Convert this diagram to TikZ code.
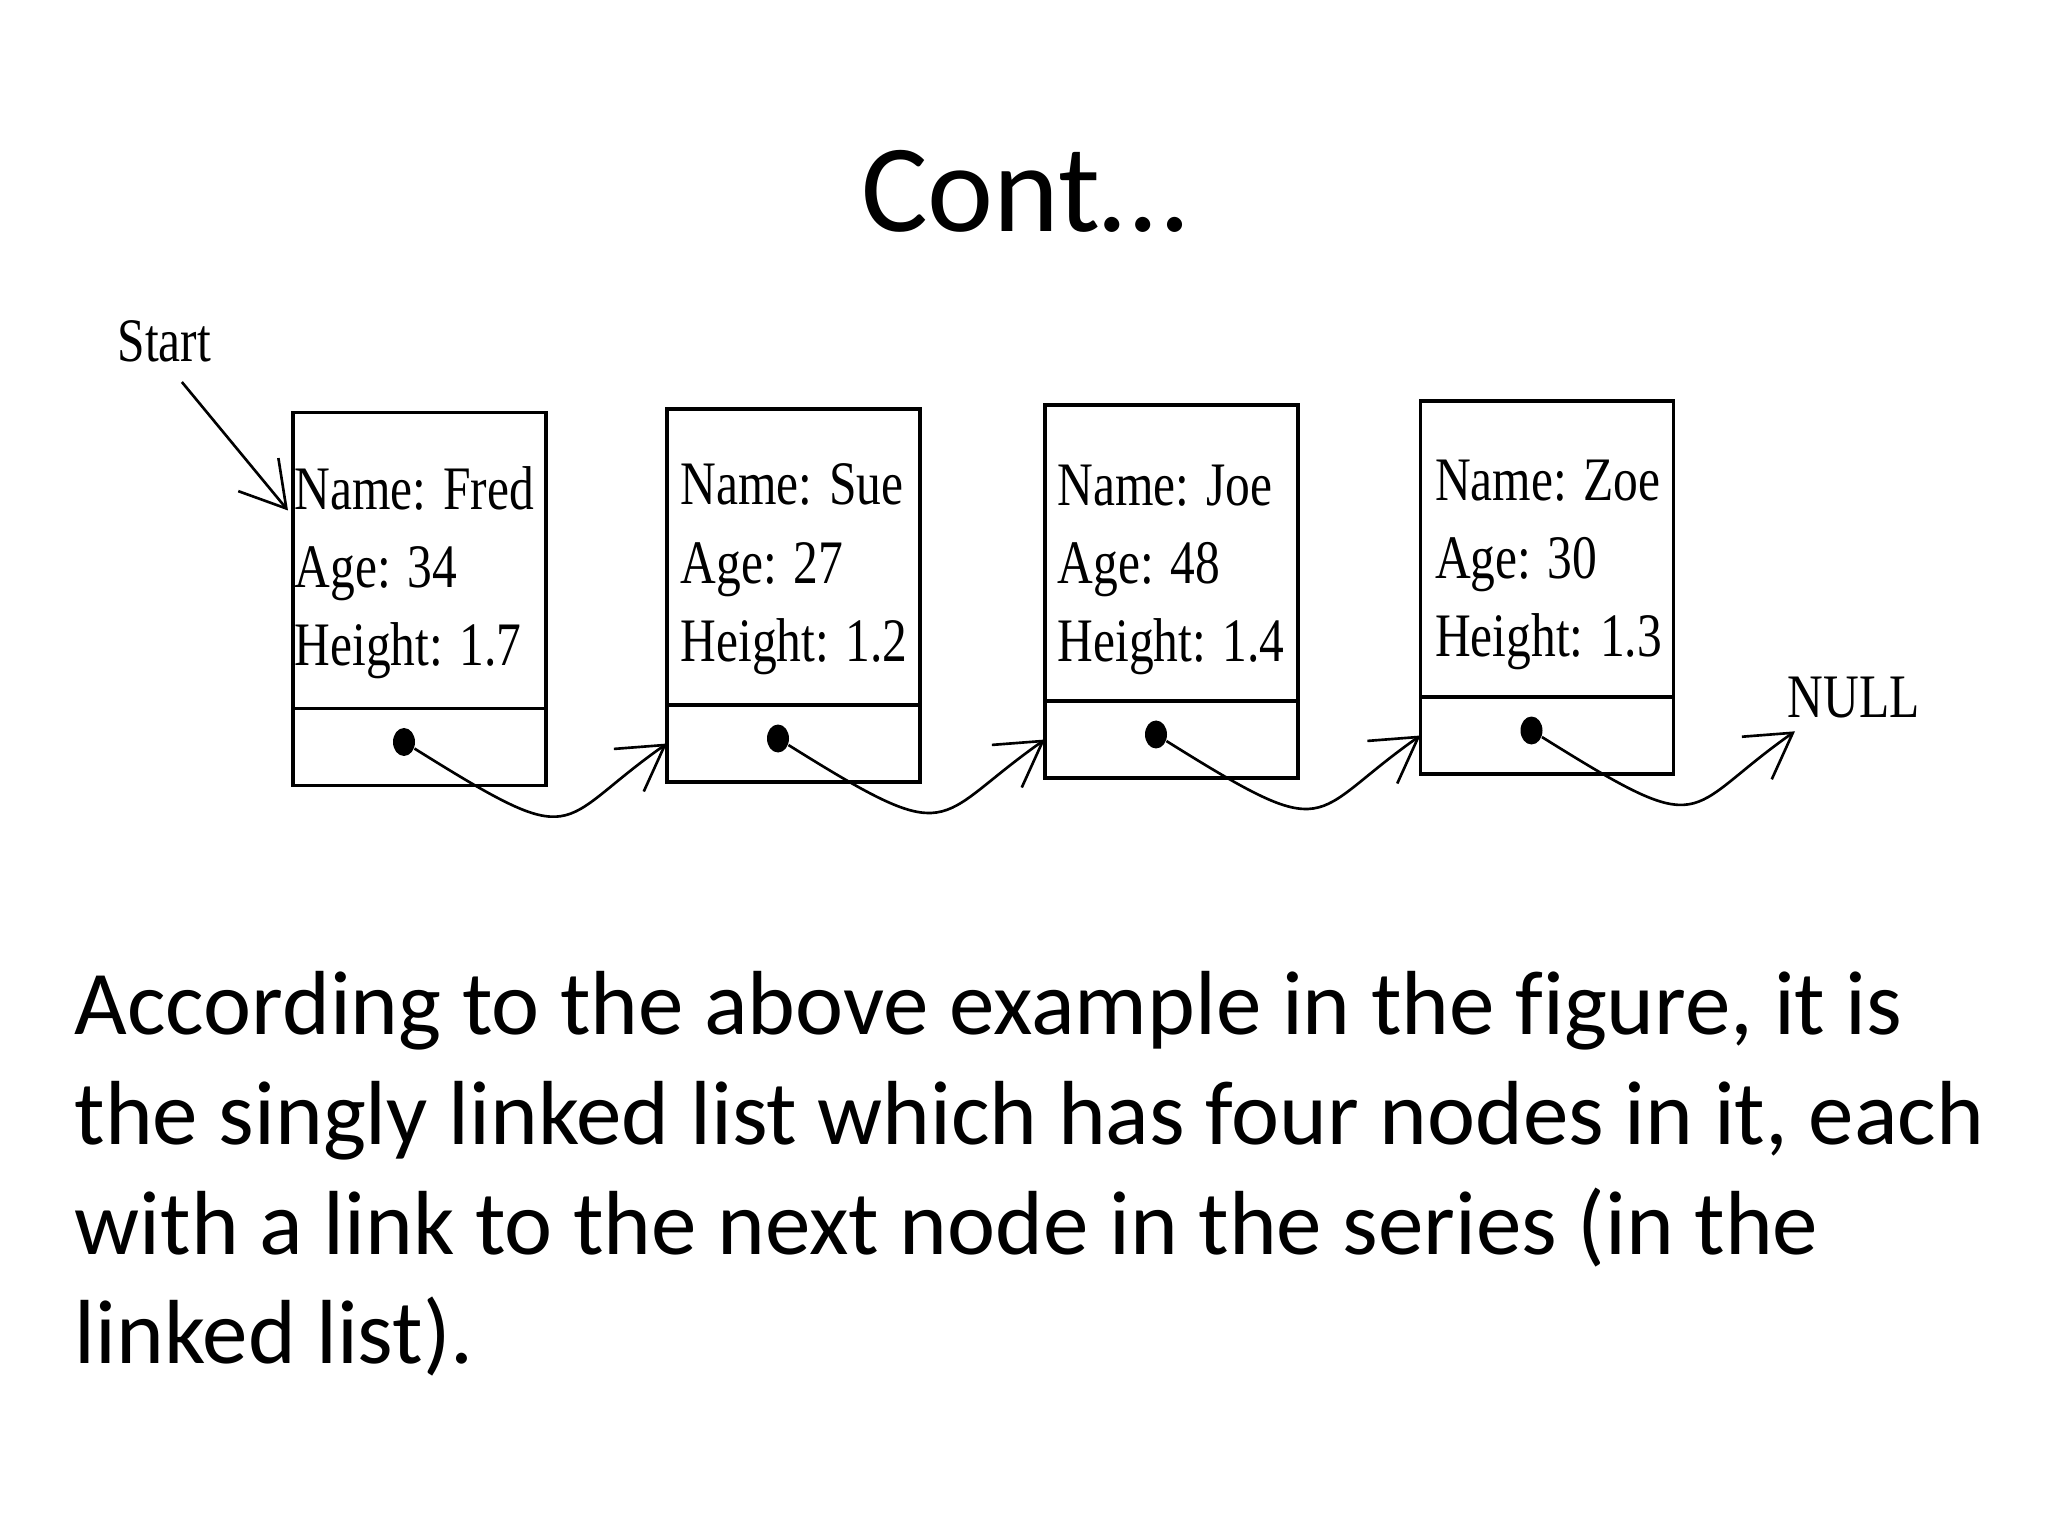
\documentclass[tikz,border=0pt]{standalone}
\usepackage{fontspec}
\usetikzlibrary{positioning, arrows.meta, shapes.geometric}
\newfontfamily\slidefont[Ligatures=NoCommon]{Carlito}
\newfontfamily\boxfont[FakeStretch=0.8]{Liberation Serif}

\begin{document}
\begin{tikzpicture}[>={Straight Barb[length=4.4mm, width=5.2mm]},
    datacell/.style={draw, line width=1.1pt, minimum width=2.53cm, minimum height=2.96cm, inner sep=0pt, outer sep=0pt},
    ptrcell/.style={draw, line width=1.1pt, minimum width=2.53cm, minimum height=0.77cm, inner sep=0pt, outer sep=0pt},
    fields/.style={inner sep=0pt, align=left, font=\boxfont\fontsize{17.6}{22.3}\selectfont},
    tag/.style={inner sep=0pt, font=\boxfont\fontsize{17.6}{22.3}\selectfont},
    ptrdot/.style={ellipse, fill, inner sep=0pt, minimum width=0.22cm, minimum height=0.28cm},
    link/.style={->, line width=0.75pt}]
    \fill[white] (0,0) rectangle (20.48,-15.36);
    \path[use as bounding box] (0,0) rectangle (20.48,-15.36);

    \node[anchor=base, font=\slidefont\fontsize{35.6}{42}\selectfont] (title) at (10.24,-2.32) {Cont…};

    \node[datacell] (fred) at (4.195,-5.605) {};
    \node[datacell] (sue) at (7.935,-5.57) {};
    \node[datacell] (joe) at (11.715,-5.53) {};
    \node[datacell] (zoe) at (15.47,-5.49) {};

    \node[ptrcell, below=0pt of fred] (fredptr) {};
    \node[ptrcell, below=0pt of sue] (sueptr) {};
    \node[ptrcell, below=0pt of joe] (joeptr) {};
    \node[ptrcell, below=0pt of zoe] (zoeptr) {};

    \node[fields, below right=0.53cm and 0.01cm of fred.north west] (fredinfo) {Name: Fred\\Age: 34\\Height: 1.7};
    \node[fields, below right=0.54cm and 0.13cm of sue.north west] (sueinfo) {Name: Sue\\Age: 27\\Height: 1.2};
    \node[fields, below right=0.59cm and 0.12cm of joe.north west] (joeinfo) {Name: Joe\\Age: 48\\Height: 1.4};
    \node[fields, below right=0.58cm and 0.14cm of zoe.north west] (zoeinfo) {Name: Zoe\\Age: 30\\Height: 1.3};

    \node[ptrdot, xshift=-0.155cm, yshift=0.05cm] (freddot) at (fredptr) {};
    \node[ptrdot, xshift=-0.155cm, yshift=0.05cm] (suedot) at (sueptr) {};
    \node[ptrdot, xshift=-0.155cm, yshift=0.05cm] (joedot) at (joeptr) {};
    \node[ptrdot, xshift=-0.155cm, yshift=0.05cm] (zoedot) at (zoeptr) {};

    \node[tag, anchor=base west] (start) at (1.17,-3.62) {Start};
    \node[tag, anchor=base west] (null) at (17.87,-7.17) {NULL};

    \draw[link] ([shift={(-0.3,-0.2)}]start.base east) -- ([shift={(-0.05,0.5)}]fred.west);
    \path[link]
        (freddot) edge[out=-32, in=-145, out distance=2cm, in distance=1.4cm] (sueptr.west)
        (suedot) edge[out=-32, in=-145, out distance=2cm, in distance=1.4cm] (joeptr.west)
        (joedot) edge[out=-32, in=-145, out distance=2cm, in distance=1.4cm] (zoeptr.west)
        (zoedot) edge[out=-32, in=-145, out distance=2cm, in distance=1.4cm] ([shift={(0.08,-0.13)}]null.south west)
    ;

    \node[anchor=north west, inner sep=0pt, align=left, font=\slidefont\fontsize{25.9}{31.2}\selectfont] (body) at (0.74,-9.71)
        {According to the above example in the figure, it is\\the singly linked list which has four nodes in it, each\\with a link to the next node in the series (in the\\linked list).};
\end{tikzpicture}
\end{document}
